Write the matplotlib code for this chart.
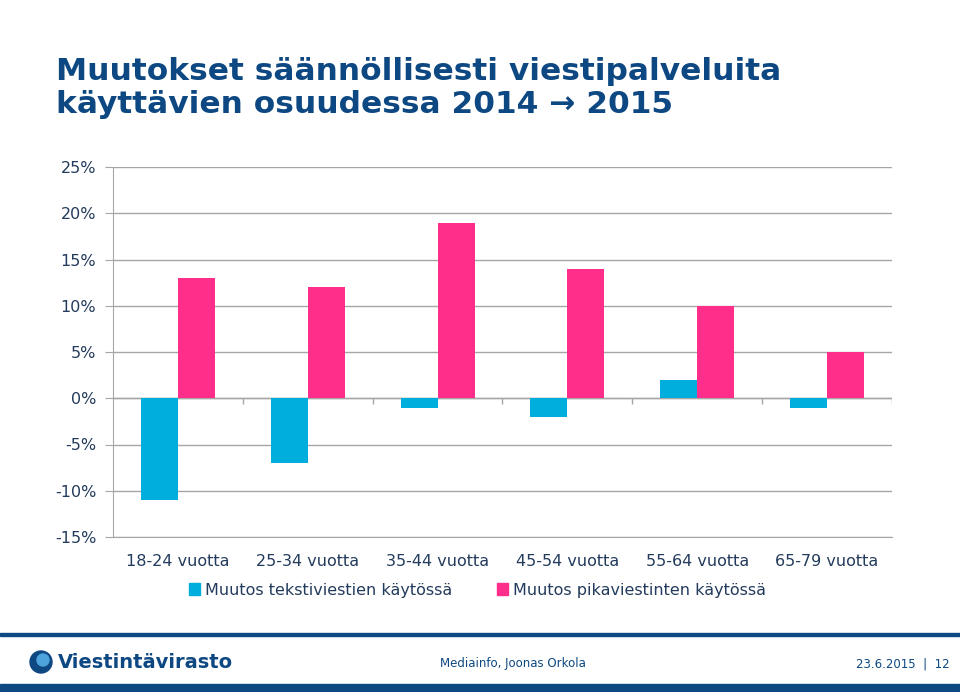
import numpy as np
import matplotlib.pyplot as plt
from matplotlib.patches import Rectangle, Ellipse, Patch
from matplotlib.ticker import FuncFormatter

# Data
ryhmat = ['18-24 vuotta', '25-34 vuotta', '35-44 vuotta',
          '45-54 vuotta', '55-64 vuotta', '65-79 vuotta']
teksti = [-11, -7, -1, -2, 2, -1]
pika = [13, 12, 19, 14, 10, 5]
y_ticks = [-15, -10, -5, 0, 5, 10, 15, 20, 25]

sininen = '#00AEDD'
pinkki = '#FF2E8B'
tumma = '#0D4882'
teksti_vari = '#233B5C'
harmaa = '#A6A6A6'

fig = plt.figure(figsize=(9.6, 6.92), dpi=100)

# Otsikko
fig.text(0.058, 1 - 88/692, 'Muutokset säännöllisesti viestipalveluita\nkäyttävien osuudessa 2014 \u2192 2015',
         fontsize=22.5, fontweight='bold', color=tumma, ha='left', va='center',
         linespacing=1.15)

ax = fig.add_axes([113/960, 1 - 537/692, 779/960, 370/692])
x = np.arange(len(ryhmat))
w = 0.285
ax.bar(x - w/2, teksti, w, color=sininen, zorder=3)
ax.bar(x + w/2, pika, w, color=pinkki, zorder=3)

ax.set_xlim(-0.5, len(ryhmat) - 0.5)
ax.set_ylim(-15, 25)
ax.set_yticks(y_ticks)
ax.yaxis.set_major_formatter(FuncFormatter(lambda v, p: '%d%%' % v))
ax.grid(axis='y', color=harmaa, lw=1, zorder=0)
ax.axhline(0, color=harmaa, lw=1, zorder=2)

# pienet merkit nollaviivalla
rajat = np.arange(len(ryhmat) + 1) - 0.5
ax.vlines(rajat[1:], -0.6, 0, color=harmaa, lw=1, zorder=2)

for s in ['top', 'right']:
    ax.spines[s].set_visible(False)
ax.spines['left'].set_color(harmaa)
ax.spines['bottom'].set_color(harmaa)
ax.tick_params(axis='y', length=6, color=harmaa, labelsize=11.5,
               labelcolor=teksti_vari, pad=6)
ax.tick_params(axis='x', length=0, labelsize=11.5, labelcolor=teksti_vari, pad=12)
ax.set_xticks(x)
ax.set_xticklabels(ryhmat)

fig.legend(handles=[Patch(color=sininen, label='Muutos tekstiviestien käytössä'),
                    Patch(color=pinkki, label='Muutos pikaviestinten käytössä')],
           loc='center', bbox_to_anchor=(0.497, 1 - 590/692), ncol=2, frameon=False,
           fontsize=11.5, handlelength=0.7, handleheight=0.7, handletextpad=0.3,
           columnspacing=2.8, labelcolor=teksti_vari)

# Alatunniste
fig.add_artist(Rectangle((0, 1 - 636/692), 1, 3/692, color=tumma, transform=fig.transFigure))
fig.add_artist(Rectangle((0, 0), 1, 8/692, color=tumma, transform=fig.transFigure))
fig.add_artist(Ellipse((41/960, 1 - 662/692), 22/960, 22/692, color=tumma, transform=fig.transFigure))
fig.add_artist(Ellipse((43/960, 1 - 660/692), 12/960, 12/692, color='#4FA3DC', transform=fig.transFigure))
fig.text(58/960, 1 - 662/692, 'Viestintävirasto', fontsize=14, fontweight='bold',
         color=tumma, ha='left', va='center')
fig.text(440/960, 1 - 664/692, 'Mediainfo, Joonas Orkola', fontsize=8.5,
         color=tumma, ha='left', va='center')
fig.text(950/960, 1 - 664/692, '23.6.2015  |  12', fontsize=8.5,
         color=tumma, ha='right', va='center')

plt.savefig('out.png', dpi=100)
